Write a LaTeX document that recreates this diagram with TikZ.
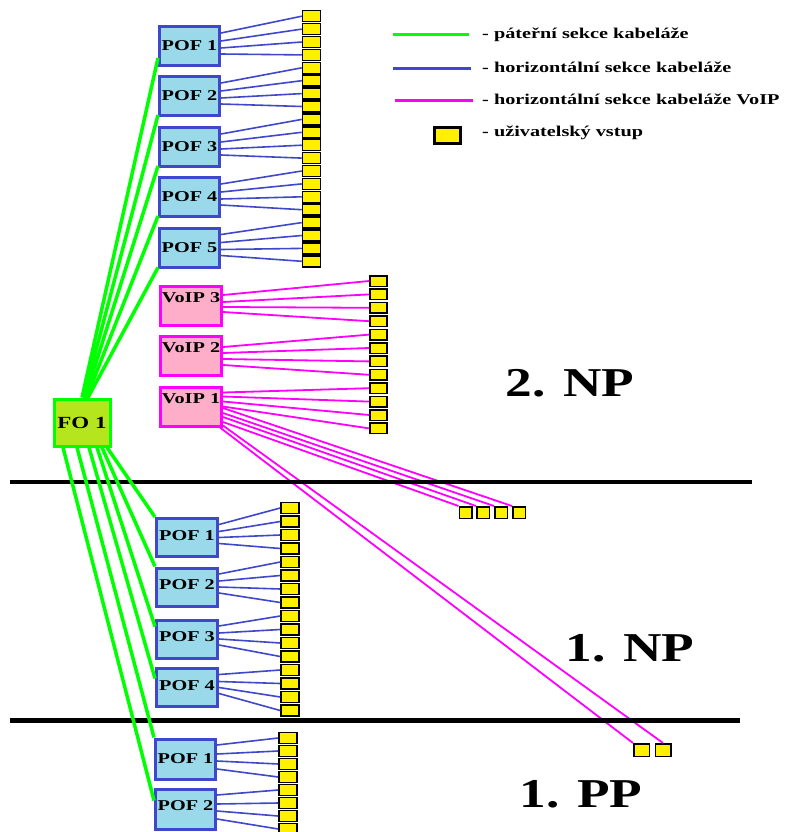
\documentclass[tikz,border=0pt]{standalone}
\usepackage{fontspec}
\setmainfont{Liberation Serif}
\usepackage{graphicx}
\newcommand\stretchtxt[1]{\scalebox{1.35}[1]{#1}}
\newcommand\bigtxt[1]{\scalebox{1.3}[1]{#1}}
\definecolor{pofblue}{HTML}{3F48CC}
\definecolor{poffill}{HTML}{99D9EA}
\definecolor{voipfill}{HTML}{FFAEC9}
\definecolor{magentaline}{HTML}{FF00FF}
\definecolor{greenline}{HTML}{00FF00}
\definecolor{fofill}{HTML}{B5E61D}
\definecolor{uyellow}{HTML}{FFF000}
\tikzset{
  pof/.style={draw=pofblue, line width=3pt, fill=poffill, minimum width=60pt, minimum height=39pt, inner sep=0pt, font=\bfseries\fontsize{15}{15}\selectfont},
  voipbox/.style={draw=magentaline, line width=3pt, fill=voipfill, minimum width=61pt, minimum height=39pt, inner sep=0pt},
  vlab/.style={yshift=8pt, inner sep=0pt, font=\bfseries\fontsize{15}{15}\selectfont},
  fobox/.style={draw=greenline, line width=3pt, fill=fofill, minimum width=56pt, minimum height=47pt, inner sep=0pt, font=\bfseries\fontsize{17}{17}\selectfont},
  usr/.style={draw=black, line width=1.5pt, fill=uyellow, minimum width=18pt, minimum height=11pt, inner sep=0pt},
  hline/.style={draw=pofblue, line width=1.6pt},
  vline/.style={draw=magentaline, line width=1.8pt},
  bline/.style={draw=greenline, line width=3.5pt},
  divider/.style={draw=black, line width=4.5pt},
  floorlab/.style={font=\bfseries\fontsize{41}{41}\selectfont, inner sep=0pt},
  legtxt/.style={anchor=base west, inner sep=0pt, font=\bfseries\fontsize{15}{15}\selectfont},
}
\begin{document}
\begin{tikzpicture}[x=1pt,y=-1pt]
\useasboundingbox (0,0) rectangle (790,832);
\clip (0,0) rectangle (790,832);
\fill[white] (0,0) rectangle (790,832);

% ---------- top floor (2. NP) POF boxes ----------
\node[pof] (a1) at (189.5,46) {\stretchtxt{POF 1}};
\node[pof] (a2) at (189.5,96) {\stretchtxt{POF 2}};
\node[pof] (a3) at (189.5,147) {\stretchtxt{POF 3}};
\node[pof] (a4) at (189.5,197) {\stretchtxt{POF 4}};
\node[pof] (a5) at (189.5,247.5) {\stretchtxt{POF 5}};
\foreach \i in {1,...,20} \node[usr] (as\i) at (311.5,{16.2+(\i-1)*12.9}) {};
\foreach \k in {1,...,5} \foreach \j/\o in {1/13,2/5,3/-2,4/-8} {
  \pgfmathtruncatemacro\n{4*(\k-1)+\j}
  \draw[hline] ([yshift=\o pt]a\k.east) -- (as\n.west);
}

% ---------- VoIP boxes ----------
\node[voipbox, label={[vlab]center:\stretchtxt{VoIP 3}}] (v3) at (191,306) {};
\node[voipbox, label={[vlab]center:\stretchtxt{VoIP 2}}] (v2) at (191,356) {};
\node[voipbox, label={[vlab]center:\stretchtxt{VoIP 1}}] (v1) at (191,406.5) {};
\foreach \i in {1,...,12} \node[usr, minimum width=17pt, minimum height=10.5pt] (vs\i) at (378.5,{281+(\i-1)*13.4}) {};
\foreach \j/\o in {1/11,2/4,3/-1,4/-6} \draw[vline] ([yshift=\o pt]v3.east) -- (vs\j.west);
\foreach \j/\o in {5/9,6/3,7/-3,8/-9} \draw[vline] ([yshift=\o pt]v2.east) -- (vs\j.west);
\foreach \j/\o in {9/14,10/10,11/5,12/0} \draw[vline] ([yshift=\o pt]v1.east) -- (vs\j.west);

% row of outlets on 1. NP fed from VoIP 1
\foreach \i/\x in {1/465.5,2/483,3/501,4/519} \node[usr, minimum width=12.5pt, minimum height=11.5pt] (e\i) at (\x,512.5) {};
\foreach \i/\o in {4/-1.5,3/-6.5,2/-10.5,1/-15.5} \draw[vline] ([yshift=\o pt]v1.east) -- (e\i.north west);

% two outlets on 1. PP fed from VoIP 1
\node[usr, minimum width=15.5pt, minimum height=12.5pt] (p1) at (641.5,750) {};
\node[usr, minimum width=15.5pt, minimum height=12.5pt] (p2) at (663,750) {};
\draw[vline] ([xshift=-3pt]v1.south east) -- (p1.north west);
\draw[vline] ([yshift=2pt]v1.south east) -- (p2.north);

% ---------- floor dividers ----------
\draw[divider] (10,482) -- (752,482);
\draw[divider] (10,720.5) -- (740,720.5);

% ---------- FO 1 ----------
\node[fobox] (fo) at (82,422.5) {\stretchtxt{FO 1}};

% ---------- 1. NP POF boxes ----------
\node[pof, minimum width=61pt, minimum height=38pt] (b1) at (187,537.5) {\raisebox{4pt}{\stretchtxt{POF 1}}};
\node[pof, minimum width=61pt, minimum height=38pt] (b2) at (187,587) {\raisebox{4pt}{\stretchtxt{POF 2}}};
\node[pof, minimum width=61pt, minimum height=38pt] (b3) at (187,639) {\raisebox{4pt}{\stretchtxt{POF 3}}};
\node[pof, minimum width=61pt, minimum height=38pt] (b4) at (187,687.5) {\raisebox{4pt}{\stretchtxt{POF 4}}};
\foreach \i in {1,...,16} \node[usr] (bs\i) at (290,{508+(\i-1)*13.5}) {};
\foreach \k in {1,...,4} \foreach \j/\o in {1/13,2/6,3/0,4/-6} {
  \pgfmathtruncatemacro\n{4*(\k-1)+\j}
  \draw[hline] ([yshift=\o pt]b\k.east) -- (bs\n.west);
}

% ---------- 1. PP POF boxes ----------
\node[pof, minimum height=40pt] (c1) at (185.5,759) {\stretchtxt{POF 1}};
\node[pof, minimum height=40pt] (c2) at (185.5,809) {\raisebox{6pt}{\stretchtxt{POF 2}}};
\foreach \i in {1,...,8} \node[usr] (cs\i) at (288,{738+(\i-1)*13}) {};
\foreach \k in {1,2} \foreach \j/\o in {1/14,2/5,3/-2,4/-10} {
  \pgfmathtruncatemacro\n{4*(\k-1)+\j}
  \draw[hline] ([yshift=\o pt]c\k.east) -- (cs\n.west);
}

% ---------- backbone (green) ----------
\draw[bline] (fo.north) -- ([yshift=9pt]a1.south west);
\draw[bline] ([xshift=1.5pt]fo.north) -- ([yshift=2pt]a2.south west);
\draw[bline] ([xshift=3pt]fo.north) -- ([yshift=2pt]a3.south west);
\draw[bline] ([xshift=4.5pt]fo.north) -- ([yshift=2pt]a4.south west);
\draw[bline] ([xshift=6pt]fo.north) -- ([yshift=1pt]a5.south west);
\draw[bline] ([xshift=25pt]fo.south) -- (b1.north west);
\draw[bline] ([xshift=20pt]fo.south) -- (b2.north west);
\draw[bline] ([xshift=15pt]fo.south) -- ([yshift=-8pt]b3.north west);
\draw[bline] ([xshift=7pt]fo.south) -- ([yshift=-11.5pt]b4.north west);
\draw[bline] ([xshift=-5pt]fo.south) -- (c1.north west);
\draw[bline] ([xshift=-19pt]fo.south) -- ([yshift=-13pt]c2.north west);

% ---------- floor labels ----------
\node[floorlab] (np2) at (570,383) {\bigtxt{2. NP}};
\node[floorlab] (np1) at (630,648) {\bigtxt{1. NP}};
\node[floorlab] (pp1) at (581,794) {\bigtxt{1. PP}};

% ---------- legend ----------
\draw[bline, line width=3pt] (393,35) -- (469,35);
\draw[hline, line width=3pt] (393,69) -- (471,69);
\draw[vline, line width=3pt] (395,101) -- (473,101);
\node[usr, line width=3pt, minimum width=26pt, minimum height=16pt] (legsq) at (447.5,135.5) {};
\node[legtxt] (l1) at (482,39) {\stretchtxt{- páteřní sekce kabeláže}};
\node[legtxt] (l2) at (482,73) {\stretchtxt{- horizontální sekce kabeláže}};
\node[legtxt] (l3) at (482,105) {\stretchtxt{- horizontální sekce kabeláže VoIP}};
\node[legtxt] (l4) at (482,136) {\stretchtxt{- uživatelský vstup}};
\end{tikzpicture}
\end{document}
